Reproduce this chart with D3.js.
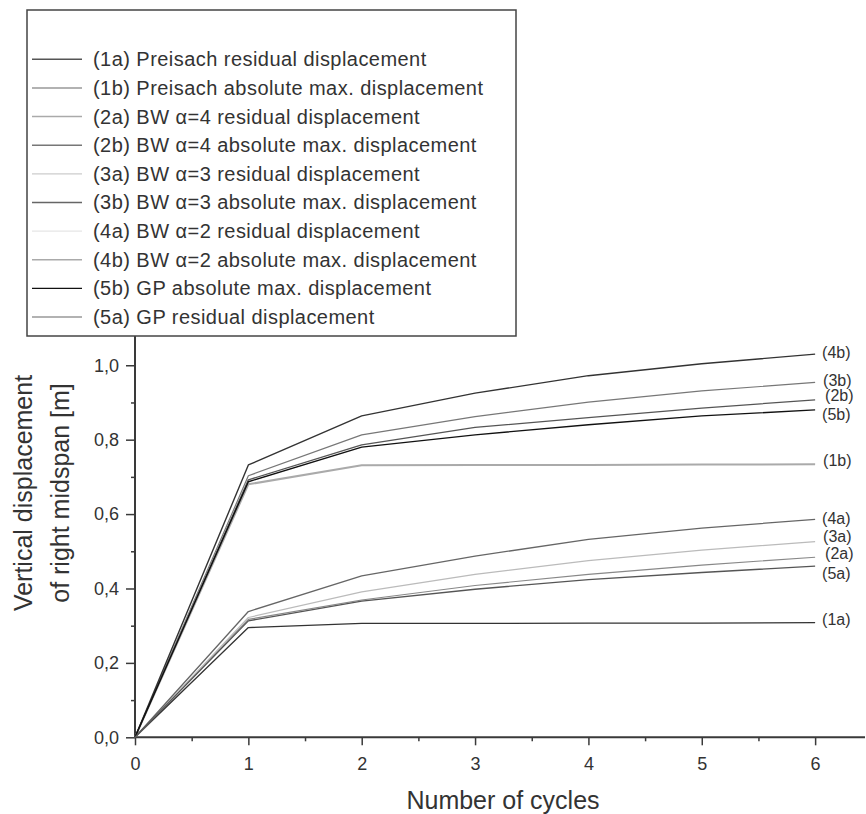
<!DOCTYPE html>
<html>
<head>
<meta charset="utf-8">
<script src="https://cdn.jsdelivr.net/npm/d3@7/dist/d3.min.js"></script>
<style>
  html, body { margin: 0; padding: 0; background: #fff; }
  svg { display: block; font-family: "Liberation Sans", Arial, Helvetica, sans-serif; }
</style>
</head>
<body>
<svg id="chart" width="866" height="814"></svg>
<script>
// ---------------- data ----------------
const cycles = [0, 1, 2, 3, 4, 5, 6];
const seriesIds = ["1a", "1b", "2a", "2b", "3a", "3b", "4a", "4b", "5b", "5a"];
const seriesNames = [
  "(1a) Preisach residual displacement",
  "(1b) Preisach absolute max. displacement",
  "(2a) BW \u03b1=4 residual displacement",
  "(2b) BW \u03b1=4 absolute max. displacement",
  "(3a) BW \u03b1=3 residual displacement",
  "(3b) BW \u03b1=3 absolute max. displacement",
  "(4a) BW \u03b1=2 residual displacement",
  "(4b) BW \u03b1=2 absolute max. displacement",
  "(5b) GP absolute max. displacement",
  "(5a) GP residual displacement"
];
const s1a = [0, 0.295, 0.306, 0.306, 0.307, 0.307, 0.308];
const s1b = [0, 0.680, 0.731, 0.732, 0.732, 0.733, 0.734];
const s2a = [0, 0.317, 0.369, 0.408, 0.438, 0.463, 0.484];
const s2b = [0, 0.692, 0.786, 0.833, 0.859, 0.885, 0.907];
const s3a = [0, 0.322, 0.391, 0.438, 0.475, 0.503, 0.526];
const s3b = [0, 0.703, 0.813, 0.862, 0.901, 0.931, 0.954];
const s4a = [0, 0.338, 0.434, 0.487, 0.532, 0.562, 0.586];
const s4b = [0, 0.732, 0.864, 0.925, 0.972, 1.004, 1.030];
const s5b = [0, 0.687, 0.780, 0.813, 0.840, 0.864, 0.880];
const s5a = [0, 0.313, 0.366, 0.398, 0.424, 0.443, 0.460];
const seriesValues = [s1a, s1b, s2a, s2b, s3a, s3b, s4a, s4b, s5b, s5a];

const xTickValues = [0, 1, 2, 3, 4, 5, 6];
const xMinorValues = [0.5, 1.5, 2.5, 3.5, 4.5, 5.5];
const yTickValues = [0, 0.2, 0.4, 0.6, 0.8, 1.0];
const yMinorValues = [0.1, 0.3, 0.5, 0.7, 0.9];
const yTickLabels = ["0,0", "0,2", "0,4", "0,6", "0,8", "1,0"];
const xTitle = "Number of cycles";
const yTitle = ["Vertical displacement", "of right midspan [m]"];

// ---------------- styles ----------------
const lineColors   = ["#333", "#aaa", "#888", "#555", "#bbb", "#777", "#666", "#333", "#111", "#555"];
const lineWidths   = [1.3, 2, 1.2, 1.3, 1.2, 1.2, 1.3, 1.4, 1.4, 1.3];
const legendColors = ["#555", "#999", "#aaa", "#777", "#ccc", "#666", "#e6e6e6", "#aaa", "#111", "#999"];
const labelDy = [-3, -4, -4, -4, -5, -2, -1, -2, 4, 7];
const labelDx = [7, 8, 10, 10, 8, 8, 7, 7, 7, 7];

// ---------------- layout ----------------
const svg = d3.select("#chart");
const x = d3.scaleLinear().domain([0, 6.44]).range([135, 865]);
const y = d3.scaleLinear().domain([0, 1.08]).range([737.3, 335.5]);
const textColor = "#333";
const axisColor = "#3a3a3a";
const fontFam = '"Liberation Sans", Arial, sans-serif';

// X axis
const gx = svg.append("g").attr("transform", `translate(0,${y(0)})`);
const gxMajor = gx.append("g").call(d3.axisBottom(x).tickValues(xTickValues).tickSize(8).tickPadding(12).tickFormat(d3.format("d")));
const gxMinor = gx.append("g").call(d3.axisBottom(x).tickValues(xMinorValues).tickSize(4).tickFormat(""));
gxMinor.select(".domain").remove();
gxMajor.select(".domain").attr("d", `M${x.range()[0]},0H${x.range()[1]}`)
  .attr("stroke", axisColor).attr("stroke-width", 2);
gx.selectAll(".tick line").attr("stroke", axisColor).attr("stroke-width", 1.5);
gx.selectAll("text").attr("fill", textColor).attr("font-size", 18).attr("font-family", fontFam);

// Y axis
const gy = svg.append("g").attr("transform", `translate(${x(0)},0)`);
const gyMajor = gy.append("g").call(d3.axisLeft(y).tickValues(yTickValues).tickSize(9).tickPadding(7)
  .tickFormat((d, i) => yTickLabels[i]));
const gyMinor = gy.append("g").call(d3.axisLeft(y).tickValues(yMinorValues).tickSize(4).tickFormat(""));
gyMinor.select(".domain").remove();
gyMajor.select(".domain").attr("d", `M0,${y.range()[0]}V${y.range()[1]}`)
  .attr("stroke", axisColor).attr("stroke-width", 2);
gy.selectAll(".tick line").attr("stroke", axisColor).attr("stroke-width", 1.5);
gy.selectAll("text").attr("fill", textColor).attr("font-size", 18).attr("font-family", fontFam);

// Lines
const line = d3.line().x((d, i) => x(cycles[i])).y(d => y(d));
svg.append("g").selectAll("path")
  .data(seriesValues)
  .join("path")
  .attr("d", d => line(d))
  .attr("fill", "none")
  .attr("stroke", (d, i) => lineColors[i])
  .attr("stroke-width", (d, i) => lineWidths[i])
  .attr("stroke-linejoin", "round");

// End labels
svg.append("g").selectAll("text")
  .data(seriesValues)
  .join("text")
  .attr("x", (d, i) => x(cycles[cycles.length - 1]) + labelDx[i])
  .attr("y", (d, i) => y(d[d.length - 1]) + labelDy[i])
  .attr("dy", "0.35em")
  .attr("font-size", 16)
  .attr("fill", textColor)
  .text((d, i) => "(" + seriesIds[i] + ")");

// Axis titles
svg.append("text")
  .attr("x", 503).attr("y", 809)
  .attr("text-anchor", "middle")
  .attr("font-size", 25)
  .attr("fill", textColor)
  .text(xTitle);

const yt = svg.append("text")
  .attr("transform", "translate(32,493) rotate(-90)")
  .attr("text-anchor", "middle")
  .attr("font-size", 25)
  .attr("fill", textColor);
yt.append("tspan").attr("x", 0).attr("y", 0).text(yTitle[0]);
yt.append("tspan").attr("x", 0).attr("y", 37).text(yTitle[1]);

// Legend
const lg = svg.append("g");
lg.append("rect")
  .attr("x", 27).attr("y", 10).attr("width", 489).attr("height", 326)
  .attr("fill", "#fff").attr("stroke", "#444").attr("stroke-width", 1.5);
const rowY = d3.scaleLinear().domain([0, 9]).range([59.3, 317]);
const rows = lg.selectAll("g.row").data(seriesNames).join("g").attr("class", "row")
  .attr("transform", (d, i) => `translate(0,${rowY(i)})`);
rows.append("line")
  .attr("x1", 32).attr("x2", 82).attr("y1", 0).attr("y2", 0)
  .attr("stroke", (d, i) => legendColors[i]).attr("stroke-width", 1.4);
rows.append("text")
  .attr("x", 93).attr("y", 0).attr("dy", "0.35em")
  .attr("font-size", 20).attr("letter-spacing", 0.45).attr("fill", textColor)
  .text(d => d);
</script>
</body>
</html>
